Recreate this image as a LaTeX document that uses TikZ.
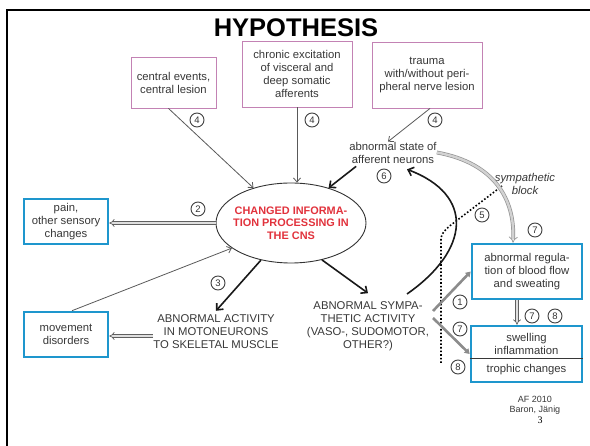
\documentclass[tikz,border=0pt]{standalone}
\usepackage{fontspec}
\setmainfont{Liberation Sans}
\newfontfamily\serifnum{Liberation Serif}
\usetikzlibrary{arrows.meta,shapes.geometric,calc}
\definecolor{txtc}{RGB}{55,55,55}
\definecolor{pinkc}{RGB}{195,130,180}
\definecolor{bluec}{RGB}{30,150,205}
\definecolor{redc}{RGB}{225,50,60}
\newcommand\bodyfont{\fontsize{11.3}{13}\selectfont}
\begin{document}
\begin{tikzpicture}[x=1pt,y=-1pt,
  lbl/.style={inner sep=0pt, align=center, font=\bodyfont, text=txtc},
  pbox/.style={draw=pinkc, line width=0.9pt, inner sep=0pt, align=center, font=\bodyfont, text=txtc},
  bbox/.style={draw=bluec, line width=2.6pt, inner sep=0pt, align=center, font=\bodyfont, text=txtc},
  num/.style={circle, draw=black!75, line width=0.9pt, minimum size=14pt, inner sep=0pt, font=\fontsize{9.5}{9.5}\selectfont, text=black!80},
  tarrow/.style={draw=black!65, line width=0.8pt, -{Straight Barb[length=4pt,width=7pt]}},
  karrow/.style={draw=black!90, line width=1.6pt, -{Straight Barb[length=5pt,width=9pt]}},
  darrow/.style={draw=gray!75!black, double=gray!25, double distance=2pt, line width=0.7pt, -{Implies[scale=1.5]}},
  harrow/.style={draw=gray!85, double=gray!35, double distance=2.4pt, line width=0.7pt, -{Implies[scale=1.5]}},
  garrow/.style={draw=gray!90, line width=2.6pt, -{Triangle[length=5pt,width=6pt]}}
]
\useasboundingbox (0,0) rectangle (590,446);
% frame
\draw[line width=2pt] (7,446) -- (7,10) -- (590,10);
% title
\node[anchor=base, inner sep=0pt, font=\fontsize{25.5}{28}\bfseries] (title) at (296,37) {HYPOTHESIS};
% top boxes
\node[pbox, minimum width=85pt, minimum height=51pt] (cb) at (173.5,82.5) {central events,\\central lesion};
\node[pbox, minimum width=110pt, minimum height=66pt] (ch) at (297,74) {chronic excitation\\of visceral and\\deep somatic\\afferents};
\node[pbox, minimum width=110pt, minimum height=66pt] (tr) at (427,75) {trauma\\with/without peri-\\pheral nerve lesion};
% ellipse
\node[ellipse, draw=black!80, line width=0.9pt, minimum width=150pt, minimum height=80pt, inner sep=0pt] (ell) at (291,223) {};
\node[inner sep=0pt, align=center, text=redc, font=\fontsize{10.9}{12.5}\bfseries] (elltxt) at (ell.center) {CHANGED INFORMA-\\TION PROCESSING IN\\THE CNS};
% left boxes
\node[bbox, minimum width=84pt, minimum height=45pt] (pain) at (66,221.5) {pain,\\other sensory\\changes};
\node[bbox, minimum width=84pt, minimum height=45pt] (mv) at (66,334.5) {movement\\disorders};
% text labels
\node[lbl] (af) at (393,152.5) {abnormal state of\\afferent neurons};
\node[lbl] (aa) at (216,332) {ABNORMAL ACTIVITY\\IN MOTONEURONS\\TO SKELETAL MUSCLE};
\node[lbl] (sa) at (368,326) {ABNORMAL SYMPA-\\THETIC ACTIVITY\\(VASO-, SUDOMOTOR,\\OTHER?)};
\node[lbl, font=\bodyfont\itshape] (sb) at (525,183.5) {sympathetic\\block};
% right boxes
\node[bbox, minimum width=110pt, minimum height=55pt] (bx1) at (527,271.5) {abnormal regula-\\tion of blood flow\\and sweating};
\node[bbox, minimum width=111pt, minimum height=56pt] (bx2) at (526.5,354) {};
\draw[draw=txtc, line width=0.8pt] (bx2.west |- 0,358) -- (bx2.east |- 0,358);
\node[lbl] (sw) at (526.5,343.5) {swelling\\inflammation};
\node[lbl] (tc) at (526.5,370) {trophic changes};
% footer
\node[lbl, font=\fontsize{9}{10}\selectfont] (af2010) at (535,405) {AF 2010\\Baron, Jänig};
\node[inner sep=0pt, font=\serifnum\fontsize{10}{10}\selectfont] (pg) at (540,420) {3};
% numbers
\node[num] (n4a) at (197,120) {4};
\node[num] (n4b) at (312,120) {4};
\node[num] (n4c) at (435,120) {4};
\node[num] (n2) at (198,209) {2};
\node[num] (n3) at (218,283) {3};
\node[num] (n6) at (384,176) {6};
\node[num] (n5) at (482,215) {5};
\node[num] (n7a) at (535,230) {7};
\node[num] (n1) at (460,302) {1};
\node[num] (n7b) at (532,316) {7};
\node[num] (n8a) at (555,316) {8};
\node[num] (n7c) at (460,329) {7};
\node[num] (n8b) at (458,367) {8};
% sympathetic block dotted line
\draw[line width=1.6pt, dotted, rounded corners=4pt] (441,363) -- (441,235) -- (447,228) -- (502,186);
% free ends
\coordinate (cs) at (407,294);
\coordinate (s1) at (433,311);
\coordinate (s7) at (433,318);
% connectors
\draw[tarrow] ([xshift=-5pt]cb.south) -- (ell.137);
\draw[tarrow] (ch.south) -- (ch.south |- ell.north);
\draw[tarrow] ([xshift=3pt]tr.south) -- ([xshift=-5pt]af.north);
\draw[karrow] ([xshift=7pt,yshift=-3pt]af.south west) -- (ell.43);
\draw[darrow] (ell.west) -- (ell.west -| pain.east);
\draw[tarrow] ([xshift=6pt]mv.north) -- (ell.203);
\draw[karrow] (ell.231) -- ([yshift=4pt]aa.north);
\draw[darrow] ([yshift=-4pt]aa.west) -- ([yshift=-4pt]aa.west -| mv.east);
\draw[karrow] (ell.310) -- ([yshift=8pt]sa.north);
\draw[karrow] (cs) .. controls (470,250) and (475,195) .. ([xshift=14pt,yshift=-6pt]af.south);
\draw[harrow] (af.east) .. controls (495,163) and (515,200) .. ([xshift=-14pt]bx1.north);
\draw[garrow] (s1) -- (bx1.west);
\draw[garrow] (s7) -- (bx2.west);
\draw[darrow] ([xshift=-10pt]bx1.south) -- ([xshift=-10pt]bx1.south |- bx2.north);
\end{tikzpicture}
\end{document}
